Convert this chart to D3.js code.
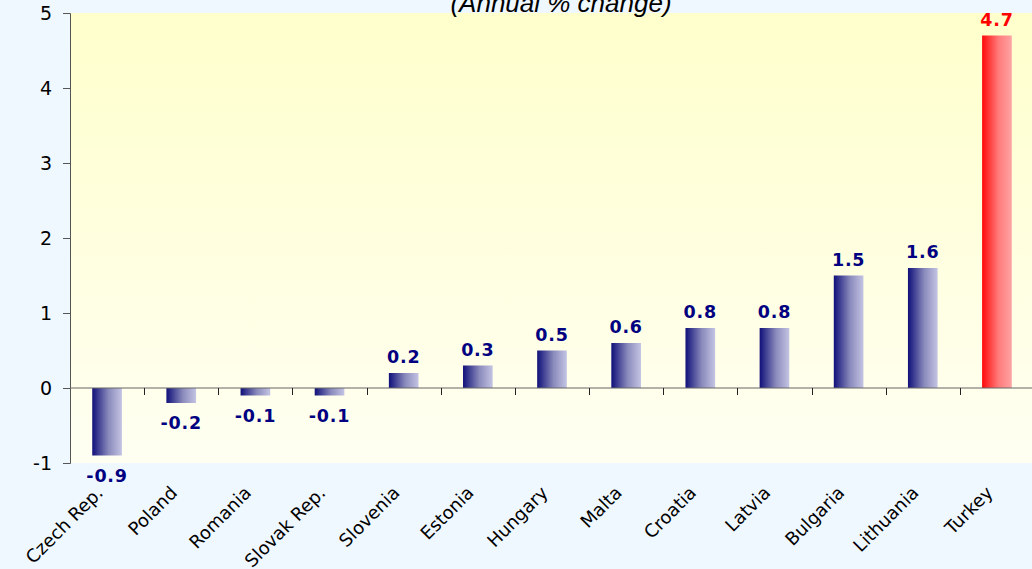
<!DOCTYPE html>
<html lang="en">
<head>
    <meta charset="UTF-8">
    <title>Annual % change</title>
    <script src="https://cdn.jsdelivr.net/npm/d3@7"></script>
    <style>
        body {
            margin: 0;
            background: #f0f8ff;
        }

        .tick text {
            font-family: "DejaVu Sans", Verdana, sans-serif;
            fill: black;
        }

        .val {
            font-family: "DejaVu Sans", Verdana, sans-serif;
            font-weight: bold;
            font-size: 17.5px;
            letter-spacing: 0.8px;
        }
    </style>
</head>
<body>
<script>
    var categories = ["Czech Rep.", "Poland", "Romania", "Slovak Rep.", "Slovenia", "Estonia", "Hungary",
        "Malta", "Croatia", "Latvia", "Bulgaria", "Lithuania", "Turkey"];
    var values = [-0.9, -0.2, -0.1, -0.1, 0.2, 0.3, 0.5, 0.6, 0.8, 0.8, 1.5, 1.6, 4.7];
    var highlight = ["Turkey"];
    var yTicks = [-1, 0, 1, 2, 3, 4, 5];

    var width = 1032;
    var height = 569;
    var padding = {top: 13, right: -2, bottom: 106, left: 70};

    var svg = d3.select("body")
            .append("svg")
            .attr("width", width)
            .attr("height", height);

    var defs = svg.append("defs");

    var bg = defs.append("linearGradient")
            .attr("id", "bg")
            .attr("x1", 0).attr("y1", 0).attr("x2", 0).attr("y2", 1);
    bg.append("stop").attr("offset", "0%").attr("stop-color", "#ffffcc");
    bg.append("stop").attr("offset", "100%").attr("stop-color", "#fffff2");

    var blue = defs.append("linearGradient")
            .attr("id", "blue")
            .attr("x1", 0).attr("y1", 0).attr("x2", 1).attr("y2", 0);
    blue.append("stop").attr("offset", "0%").attr("stop-color", "#10107a");
    blue.append("stop").attr("offset", "55%").attr("stop-color", "#8a8abc");
    blue.append("stop").attr("offset", "100%").attr("stop-color", "#c4c4e4");

    var red = defs.append("linearGradient")
            .attr("id", "red")
            .attr("x1", 0).attr("y1", 0).attr("x2", 1).attr("y2", 0);
    red.append("stop").attr("offset", "0%").attr("stop-color", "#ff0a0a");
    red.append("stop").attr("offset", "55%").attr("stop-color", "#ff7a7a");
    red.append("stop").attr("offset", "100%").attr("stop-color", "#ffa4a4");

    var x = d3.scaleBand()
            .domain(categories)
            .range([padding.left, width - padding.right])
            .paddingInner(0.6)
            .paddingOuter(0.3);

    // band boundaries for the category ticks
    var step = x.step();
    var x0 = x.range()[0];

    var y = d3.scaleLinear()
            .domain([-1, 5])
            .range([height - padding.bottom, padding.top]);

    svg.append("rect")
            .attr("x", padding.left)
            .attr("y", y(5))
            .attr("width", width - padding.left - padding.right)
            .attr("height", y(-1) - y(5))
            .attr("fill", "url(#bg)");

    svg.append("text")
            .attr("x", 561)
            .attr("y", 12)
            .attr("text-anchor", "middle")
            .style("font-family", "'Liberation Sans', Arial, sans-serif")
            .style("font-style", "italic")
            .style("font-size", "26px")
            .text("(Annual % change)");

    svg.append("g")
            .selectAll("rect")
            .data(values)
            .enter()
            .append("rect")
            .attr("x", function (d, i) {
                return x(categories[i]);
            })
            .attr("y", function (d) {
                return y(Math.max(0, d));
            })
            .attr("width", x.bandwidth())
            .attr("height", function (d) {
                return Math.abs(y(d) - y(0));
            })
            .attr("fill", function (d, i) {
                return highlight.indexOf(categories[i]) >= 0 ? "url(#red)" : "url(#blue)";
            });

    svg.append("g")
            .selectAll("text")
            .data(values)
            .enter()
            .append("text")
            .attr("class", "val")
            .attr("x", function (d, i) {
                return x(categories[i]) + x.bandwidth() / 2;
            })
            .attr("y", function (d) {
                return d >= 0 ? y(d) - 10 : y(d) + 26;
            })
            .attr("text-anchor", "middle")
            .attr("fill", function (d, i) {
                return highlight.indexOf(categories[i]) >= 0 ? "#ff0000" : "#000080";
            })
            .text(function (d) {
                return d.toFixed(1);
            });

    // y axis
    var yAxis = svg.append("g")
            .attr("transform", "translate(" + padding.left + ",0)")
            .call(d3.axisLeft(y).tickValues(yTicks).tickSize(7).tickPadding(11).tickFormat(function (d) {
                return String(d);
            }));
    yAxis.select(".domain").attr("stroke", "#555");
    yAxis.selectAll(".tick line").attr("stroke", "#555");
    yAxis.selectAll(".tick text").style("font-size", "19px");

    // zero line with category ticks
    svg.append("line")
            .attr("x1", padding.left)
            .attr("x2", width)
            .attr("y1", y(0))
            .attr("y2", y(0))
            .attr("stroke", "#666")
            .attr("stroke-width", 1.2);

    svg.append("g")
            .selectAll("line")
            .data(categories)
            .enter()
            .append("line")
            .attr("x1", function (d, i) {
                return Math.round(x0 + (i + 1) * step) + 0.5;
            })
            .attr("x2", function (d, i) {
                return Math.round(x0 + (i + 1) * step) + 0.5;
            })
            .attr("y1", y(0))
            .attr("y2", y(0) + 7)
            .attr("stroke", "#222");

    // category labels
    svg.append("g")
            .selectAll("text")
            .data(categories)
            .enter()
            .append("text")
            .attr("transform", function (d) {
                return "translate(" + (x(d) + x.bandwidth() / 2 - 3) + "," + 494 + ") rotate(-45)";
            })
            .attr("text-anchor", "end")
            .style("font-family", "'DejaVu Sans', Verdana, sans-serif")
            .style("font-size", "18px")
            .text(function (d) {
                return d;
            });
</script>
</body>
</html>
